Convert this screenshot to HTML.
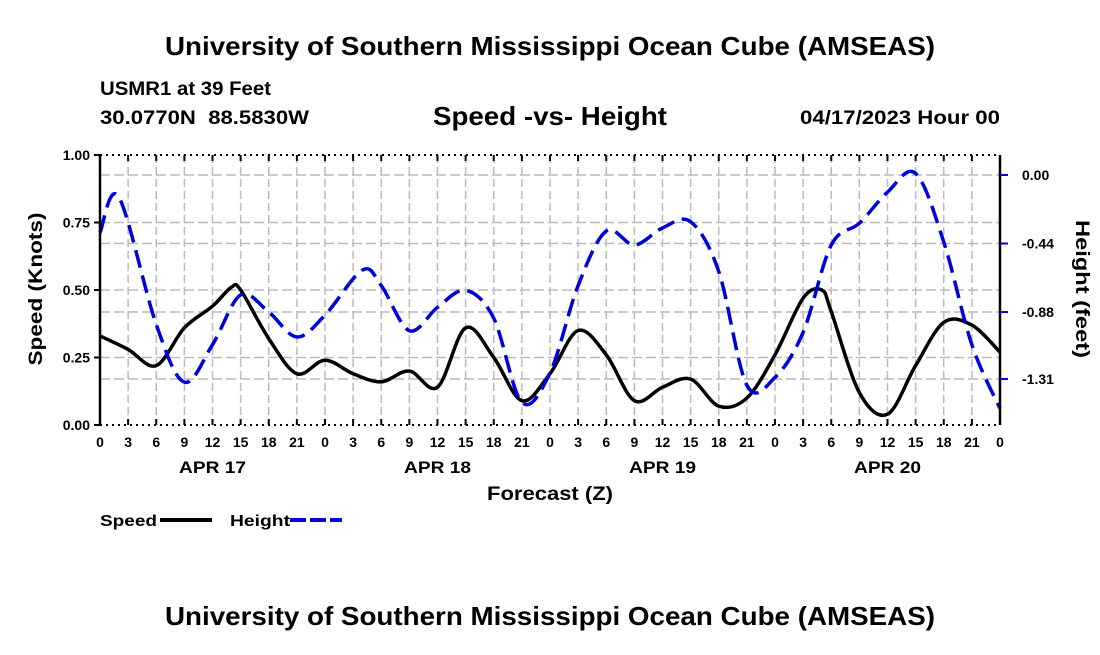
<!DOCTYPE html>
<html><head><meta charset="utf-8"><style>
body{margin:0;background:#fff;width:1100px;height:650px;overflow:hidden;font-family:"Liberation Sans",sans-serif}
svg text{font-family:"Liberation Sans",sans-serif;font-weight:bold}
</style></head><body>
<svg id="chart" width="1100" height="650" xmlns="http://www.w3.org/2000/svg">
<text x="550" y="55" font-size="26" text-anchor="middle" textLength="770" lengthAdjust="spacingAndGlyphs">University of Southern Mississippi Ocean Cube (AMSEAS)</text>
<text x="100" y="95" font-size="19" textLength="171" lengthAdjust="spacingAndGlyphs">USMR1 at 39 Feet</text>
<text x="100" y="124" font-size="19" xml:space="preserve" textLength="209" lengthAdjust="spacingAndGlyphs">30.0770N  88.5830W</text>
<text x="550" y="125" font-size="26" text-anchor="middle" textLength="234" lengthAdjust="spacingAndGlyphs">Speed -vs- Height</text>
<text x="800" y="124" font-size="19" textLength="200" lengthAdjust="spacingAndGlyphs">04/17/2023 Hour 00</text>
<g id="grid"></g>
<g id="series"></g>
<g id="axes"></g>
<text transform="translate(42,289) rotate(-90)" font-size="19" text-anchor="middle" textLength="153" lengthAdjust="spacingAndGlyphs">Speed (Knots)</text>
<text transform="translate(1076,289) rotate(90)" font-size="19" text-anchor="middle" textLength="138" lengthAdjust="spacingAndGlyphs">Height (feet)</text>
<text x="550" y="500" font-size="19" text-anchor="middle" textLength="126" lengthAdjust="spacingAndGlyphs">Forecast (Z)</text>
<g>
<text x="100" y="526" font-size="16" textLength="57" lengthAdjust="spacingAndGlyphs">Speed</text>
<line x1="160" y1="520" x2="212" y2="520" stroke="#000" stroke-width="4"/>
<text x="230" y="526" font-size="16" textLength="60" lengthAdjust="spacingAndGlyphs">Height</text>
<line x1="290" y1="520" x2="342" y2="520" stroke="#0000dd" stroke-width="4" stroke-dasharray="16,4"/>
</g>
<text x="550" y="625" font-size="26" text-anchor="middle" textLength="770" lengthAdjust="spacingAndGlyphs">University of Southern Mississippi Ocean Cube (AMSEAS)</text>
</svg>
<script>
const speedHours=[0,3,6,9,12,14,15,18,21,24,27,30,33,36,39,42,45,48,51,54,57,60,63,66,69,72,75,77,78,81,84,87,90,93,96];
const speedValues=[0.33,0.28,0.22,0.36,0.44,0.51,0.50,0.32,0.19,0.24,0.19,0.16,0.20,0.14,0.36,0.25,0.09,0.19,0.35,0.26,0.09,0.14,0.17,0.07,0.10,0.26,0.47,0.50,0.42,0.12,0.04,0.22,0.38,0.37,0.27];
const heightHours=[0,2,6,9,12,15,18,21,24,28,30,33,36,39,42,45,48,51,54,57,60,63,66,69,72,75,78,81,84,87,90,93,96];
const heightValues=[-0.37,-0.14,-0.96,-1.33,-1.09,-0.77,-0.88,-1.04,-0.90,-0.61,-0.71,-1.0,-0.85,-0.74,-0.92,-1.46,-1.27,-0.71,-0.36,-0.45,-0.34,-0.30,-0.62,-1.35,-1.30,-1.01,-0.45,-0.31,-0.11,0.01,-0.43,-1.09,-1.50];
const hourTicks=[0,3,6,9,12,15,18,21];
const dayLabels=["APR 17","APR 18","APR 19","APR 20"];
const speedTicks=["0.00","0.25","0.50","0.75","1.00"];
const heightTicks=[0.00,-0.44,-0.88,-1.31];

const X0=100,X1=1000,Y0=425,Y1=155;
const xs=h=>X0+(h/96)*(X1-X0);
const ySpeed=v=>Y0-v*(Y0-Y1);
const yHeight=v=>175-v*(204/1.31);
const NS="http://www.w3.org/2000/svg";
function mk(tag,attrs,parent){const e=document.createElementNS(NS,tag);for(const k in attrs)e.setAttribute(k,attrs[k]);parent.appendChild(e);return e;}
const grid=document.getElementById('grid'),axes=document.getElementById('axes'),series=document.getElementById('series');

for(let h=3;h<96;h+=3){
  const g=mk('line',{x1:xs(h),x2:xs(h),y1:Y1,y2:Y0,stroke:'#bbb','stroke-width':1.5,'stroke-dasharray':'8,4'},grid);
  
  
}
[0.25,0.5,0.75].forEach(v=>{
  const g=mk('line',{x1:X0,x2:X1,y1:ySpeed(v),y2:ySpeed(v),stroke:'#bbb','stroke-width':1.5,'stroke-dasharray':'10,4'},grid);
  
  
});
heightTicks.forEach(v=>{
  const g=mk('line',{x1:X0,x2:X1,y1:yHeight(v),y2:yHeight(v),stroke:'#bbb','stroke-width':1.5,'stroke-dasharray':'10,4'},grid);
  
  
});

function smoothPath(hours,vals,yf){
  const p=hours.map((h,i)=>[xs(h),yf(vals[i])]);
  let d=`M${p[0][0]},${p[0][1]}`;
  for(let i=0;i<p.length-1;i++){
    const a=p[Math.max(0,i-1)],b=p[i],c=p[i+1],e=p[Math.min(p.length-1,i+2)];
    const c1=[b[0]+(c[0]-a[0])/6,b[1]+(c[1]-a[1])/6],c2=[c[0]-(e[0]-b[0])/6,c[1]-(e[1]-b[1])/6];
    d+=` C${c1[0]},${c1[1]} ${c2[0]},${c2[1]} ${c[0]},${c[1]}`;
  }
  return d;
}
const sp=mk('path',{d:smoothPath(speedHours,speedValues,ySpeed),fill:'none',stroke:'#000','stroke-width':3.5},series);


const hp=mk('path',{d:smoothPath(heightHours,heightValues,yHeight),fill:'none',stroke:'#0000dd','stroke-width':3.5,'stroke-dasharray':'18,8'},series);



[[X0,Y1,X0,Y0,'#000','none',2.5],[X1,Y1,X1,Y0,'#000','none',2.5],[X0,Y1,X1,Y1,'#000','2,4',2],[X0,Y0,X1,Y0,'#000','2,4',2]].forEach(l=>{
  const e=mk('line',{x1:l[0],y1:l[1],x2:l[2],y2:l[3],stroke:l[4],'stroke-dasharray':l[5],'stroke-width':l[6]},axes);
  
  
});
for(let d=0;d<4;d++){
  hourTicks.forEach(h=>{
    const x=xs(d*24+h);
    const t=mk('line',{x1:x,x2:x,y1:Y0,y2:Y0-6,stroke:'#000','stroke-width':2},axes);
    
    
    const t2=mk('line',{x1:x,x2:x,y1:Y1,y2:Y1+6,stroke:'#000','stroke-width':2},axes);
    
    
    const lb=mk('text',{x:x,y:447,'font-size':14,'text-anchor':'middle'},axes);
    lb.textContent=h;
    
    
  });
  const dl=mk('text',{x:xs(d*24+12),y:473,'font-size':17,'text-anchor':'middle',textLength:67,lengthAdjust:'spacingAndGlyphs'},axes);
  dl.textContent=dayLabels[d];
  
  
}
{const lb=mk('text',{x:X1,y:447,'font-size':14,'text-anchor':'middle'},axes);lb.textContent='0';

}
speedTicks.forEach((s,i)=>{
  const v=parseFloat(s),y=ySpeed(v);
  const t=mk('line',{x1:X0-6,x2:X0,y1:y,y2:y,stroke:'#000','stroke-width':2},axes);
  
  
  const lb=mk('text',{x:X0-10,y:y+5,'font-size':14,'text-anchor':'end'},axes);
  lb.textContent=s;
  
  
});
heightTicks.forEach(v=>{
  const y=yHeight(v);
  const t=mk('line',{x1:X1,x2:X1+8,y1:y,y2:y,stroke:'#0000dd','stroke-width':2},axes);
  
  
  const lb=mk('text',{x:X1+22,y:y+5,'font-size':14},axes);
  lb.textContent=v.toFixed(2);
  
  
});
</script>
</body></html>
